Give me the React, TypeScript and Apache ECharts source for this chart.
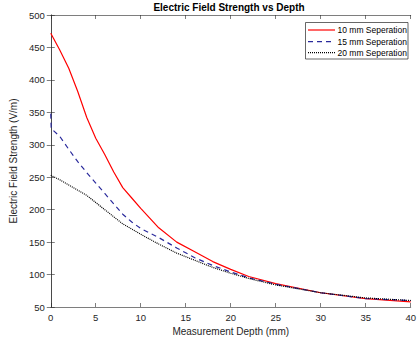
import React, { useEffect, useRef } from "react";
import * as echarts from "echarts";

const series10: [number, number][] = [
  [0, 472], [1, 446], [2, 418], [3, 382], [4, 342], [5, 310], [6, 285], [7, 258],
  [8, 234], [9, 218], [10, 202], [12, 172], [14, 150], [16, 135], [18, 120],
  [20, 108], [22, 97], [25, 86], [30, 72], [35, 63], [40, 58],
];
const series15: [number, number][] = [
  [0, 348], [0.05, 325], [1, 313], [2, 293], [3, 274], [4, 257], [5, 241], [6, 225],
  [7, 209], [8, 193], [9, 181], [10, 171], [12, 157], [14, 141], [16, 126],
  [18, 114], [20, 104], [22, 95], [25, 85], [30, 72], [35, 63], [40, 60],
];
const series20: [number, number][] = [
  [0, 253], [1, 246], [2, 238], [3, 230], [4, 222], [5, 211], [6, 200], [7, 189],
  [8, 178], [10, 162], [12, 147], [14, 133], [16, 122], [18, 111], [20, 102],
  [22, 94], [25, 84], [30, 72], [35, 64], [40, 60],
];
const seriesNames = ["10 mm Seperation", "15 mm Seperation", "20 mm Seperation"];
const seriesColors = ["#ff0000", "#2a2a9c", "#000000"];
const seriesDash: (number[] | "solid")[] = ["solid", [5, 4], [1, 1]];
const titleText = "Electric Field Strength vs Depth";
const xName = "Measurement Depth (mm)";
const yName = "Electric Field Strength (V/m)";

const axisColor = "#262626";
const font = "Liberation Sans, Arial, sans-serif";

export default function App() {
  const ref = useRef<HTMLDivElement>(null);
  useEffect(() => {
    if (!ref.current) return;
    const chart = echarts.init(ref.current, null, { renderer: "svg" });
    const axisCommon = {
      type: "value" as const,
      axisLine: { show: true, lineStyle: { color: axisColor, width: 0.6 } },
      axisTick: { show: true, inside: true, length: 4, lineStyle: { color: axisColor, width: 0.6 } },
      splitLine: { show: false },
    };
    const legendRows = [30, 41.7, 52.7];
    const legendGraphics: any[] = [
      {
        type: "rect",
        shape: { x: 305.5, y: 22.5, width: 102.5, height: 36.5 },
        style: { fill: "#fff", stroke: axisColor, lineWidth: 0.7 },
        z: 100,
      },
    ];
    seriesNames.forEach((n, i) => {
      legendGraphics.push({
        type: "line",
        shape: { x1: 308, y1: legendRows[i], x2: 335, y2: legendRows[i] },
        style: {
          stroke: seriesColors[i],
          lineWidth: 1.2,
          lineDash: seriesDash[i] === "solid" ? null : seriesDash[i],
        },
        z: 101,
      });
      legendGraphics.push({
        type: "text",
        x: 337.5,
        y: legendRows[i],
        style: {
          text: n,
          fontFamily: font,
          fontSize: 8.5,
          fill: "#000",
          textVerticalAlign: "middle",
          verticalAlign: "middle",
        },
        z: 101,
      });
    });
    chart.setOption({
      animation: false,
      backgroundColor: "#ffffff",
      title: {
        text: titleText,
        left: 229,
        textAlign: "center",
        top: 2,
        padding: 0,
        textStyle: { fontFamily: font, fontSize: 10, fontWeight: "bold", color: "#000" },
      },
      graphic: legendGraphics,
      grid: { left: 43, top: 15, width: 372, height: 292, containLabel: false },
      xAxis: [
        {
          ...axisCommon,
          min: 0, max: 40, interval: 5,
          position: "bottom",
          name: xName,
          nameLocation: "middle",
          nameGap: 19,
          nameTextStyle: { fontFamily: font, fontSize: 10, color: axisColor },
          axisLabel: { fontFamily: font, fontSize: 9.5, color: axisColor, margin: 5 },
        },
        {
          ...axisCommon,
          min: 0, max: 40, interval: 5,
          position: "top",
          axisLabel: { show: false },
        },
      ],
      yAxis: [
        {
          ...axisCommon,
          min: 50, max: 500, interval: 50,
          position: "left",
          name: yName,
          nameLocation: "middle",
          nameGap: 27,
          nameTextStyle: { fontFamily: font, fontSize: 10, color: axisColor },
          axisLabel: { fontFamily: font, fontSize: 9.5, color: axisColor, margin: 6 },
        },
        {
          ...axisCommon,
          min: 50, max: 500, interval: 50,
          position: "right",
          axisLabel: { show: false },
        },
      ],
      series: [series10, series15, series20].map((d, i) => ({
        name: seriesNames[i],
        type: "line",
        data: d,
        symbol: "none",
        lineStyle: { color: seriesColors[i], width: 1.2, type: seriesDash[i] },
        itemStyle: { color: seriesColors[i] },
      })),
    });
    return () => chart.dispose();
  }, []);
  return (
    <div
      ref={ref}
      style={{ position: "fixed", left: 0, top: 0, width: 419, height: 343 }}
    />
  );
}
